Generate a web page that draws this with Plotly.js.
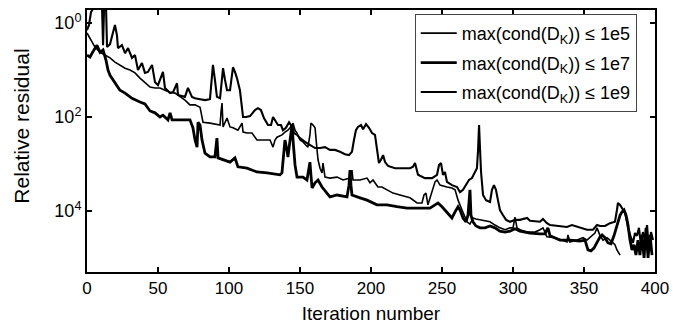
<!DOCTYPE html>
<html>
<head>
<meta charset="utf-8">
<script src="https://cdn.plot.ly/plotly-3.0.1.min.js"></script>
<style>html,body{margin:0;padding:0;background:#fff;}#chart{width:674px;height:324px;}</style>
</head>
<body>
<div id="chart"></div>
<script>
// Series names (legend)
const seriesNames = [
  'max(cond(D<sub>K</sub>)) ≤ 1e5',
  'max(cond(D<sub>K</sub>)) ≤ 1e7',
  'max(cond(D<sub>K</sub>)) ≤ 1e9'
];

// Tick labels as printed on the figure
const xTickVals = [0, 50, 100, 150, 200, 250, 300, 350, 400];
const yTickVals = [1, 0.01, 0.0001];
const yTickText = ['10<sup>0</sup>', '10<sup>2</sup>', '10<sup>4</sup>'];

// cond <= 1e5 (thin line): iteration, log10(relative residual)
const iter1e5 = [0,2.1,4.2,5.6,9.2,12.7,16.2,19.7,23.2,26.8,30.3,33.8,37.3,40.8,44.4,47.9,51.4,54.9,58.5,62.0,65.5,69.0,72.5,76.1,79.6,81.7,86.6,90.1,93.7,94.4,95.1,95.8,97.9,98.6,100.7,102.8,106.3,109.2,109.9,112.7,116.2,119.7,125.4,128.9,131.0,132.4,133.8,137.3,139.4,141.5,143.0,144.4,145.1,146.5,147.9,150.0,152.1,154.2,155.6,157.0,157.7,159.2,160.6,162.0,162.7,164.1,165.5,166.2,166.9,167.6,171.1,176.1,180.3,185.2,186.6,187.3,192.3,197.2,199.3,201.4,204.9,207.7,211.3,215.5,220.4,227.5,232.4,235.9,237.3,238.7,240.1,241.5,243.7,245.1,246.5,248.6,253.5,257.0,259.2,261.3,264.1,266.2,267.6,269.7,271.8,273.9,276.8,280.3,283.8,287.3,290.8,294.4,297.9,300.0,301.4,302.8,304.9,309.9,315.5,319.0,321.1,322.5,323.9,329.6,338.0,338.7,340.1,345.1,349.3,352.1,354.2,356.3,357.7,359.2,361.3,363.4,366.2,369.7,371.8,373.2,374.6,375.4];
const log1e5 = [-0.21,-0.32,-0.43,-0.51,-0.62,-0.68,-0.74,-0.83,-0.89,-0.96,-1.00,-1.06,-1.17,-1.26,-1.36,-1.38,-1.38,-1.43,-1.47,-1.49,-1.57,-1.64,-1.74,-1.74,-1.79,-2.11,-2.13,-2.15,-2.17,-1.89,-1.70,-2.21,-2.06,-2.02,-2.21,-2.23,-2.28,-2.13,-2.32,-2.34,-2.34,-2.49,-2.49,-2.49,-2.64,-2.49,-2.43,-2.38,-2.32,-2.28,-2.23,-2.15,-2.13,-2.28,-2.34,-2.49,-2.53,-2.60,-2.64,-2.38,-2.13,-2.17,-2.23,-2.70,-2.91,-3.09,-3.19,-2.98,-3.13,-3.28,-3.30,-3.28,-3.34,-3.30,-3.13,-3.34,-3.34,-3.30,-3.40,-3.34,-3.49,-3.49,-3.55,-3.62,-3.66,-3.72,-3.83,-3.83,-3.66,-3.62,-3.87,-3.72,-3.51,-3.38,-3.34,-3.45,-3.49,-3.51,-3.55,-3.77,-3.98,-4.13,-4.23,-4.28,-4.15,-4.17,-4.19,-4.21,-4.23,-4.30,-4.36,-4.40,-4.36,-4.36,-4.13,-4.36,-4.40,-4.45,-4.45,-4.40,-4.36,-4.45,-4.55,-4.57,-4.66,-4.51,-4.66,-4.62,-4.57,-4.62,-4.57,-4.51,-4.47,-4.36,-4.53,-4.62,-4.57,-4.66,-4.72,-4.83,-4.89,-4.94];

// cond <= 1e7 (thick line)
const iter1e7 = [0,2.1,4.9,7.0,9.2,11.3,13.4,14.8,16.2,18.3,21.1,23.2,26.8,31.7,37.3,40.8,44.4,47.9,51.4,53.5,55.6,57.0,58.5,59.9,62.0,65.5,69.0,72.5,74.6,76.1,77.5,78.2,79.6,81.0,83.1,86.6,90.1,90.8,91.5,92.3,95.8,100.7,104.2,106.3,112.7,119.7,126.8,132.4,135.9,137.3,138.7,139.4,140.8,141.5,143.0,144.4,145.1,146.5,147.9,152.1,154.9,156.3,157.0,157.7,158.5,160.6,162.7,165.5,169.0,171.1,176.1,183.1,184.5,185.2,185.9,186.6,192.3,197.2,204.2,211.3,218.3,225.4,232.4,238.0,241.5,245.1,247.2,250.0,252.1,254.2,257.0,259.2,261.3,262.7,264.8,266.9,268.3,269.7,270.4,271.8,273.9,276.8,280.3,283.8,287.3,290.8,294.4,297.9,301.4,304.9,312.0,319.0,322.5,324.6,326.1,333.1,340.1,347.2,350.7,352.8,354.9,357.0,359.2,361.3,362.7,364.8,366.9,369.0,371.1,373.2,375.4,376.8,378.2,379.6,381.0,382.4,383.8,385.2,386.6,388.0,389.4,390.8,392.3,393.7,395.1,396.5,397.9];
const log1e7 = [-0.68,-0.72,-0.57,-0.47,-0.62,-0.57,-0.79,-1.00,-1.11,-1.21,-1.36,-1.43,-1.49,-1.60,-1.68,-1.72,-1.87,-1.91,-2.00,-1.96,-2.02,-2.06,-1.91,-2.06,-2.06,-2.06,-2.06,-2.06,-2.23,-2.49,-2.64,-2.11,-2.17,-2.49,-2.77,-2.85,-2.85,-2.60,-2.45,-2.87,-2.91,-2.96,-2.87,-3.06,-3.09,-3.17,-3.19,-3.21,-3.23,-3.19,-2.70,-2.49,-2.70,-2.85,-2.49,-2.17,-2.49,-3.02,-3.28,-3.28,-3.34,-3.13,-2.96,-3.23,-3.51,-3.40,-3.34,-3.49,-3.62,-3.70,-3.66,-3.70,-3.45,-3.13,-3.45,-3.66,-3.72,-3.77,-3.87,-3.87,-3.91,-3.94,-3.94,-3.94,-3.94,-3.87,-3.83,-3.91,-3.98,-4.04,-4.15,-4.02,-3.91,-3.98,-4.15,-4.23,-4.09,-3.55,-4.09,-4.23,-4.32,-4.36,-4.36,-4.32,-4.36,-4.43,-4.45,-4.43,-4.38,-4.43,-4.47,-4.49,-4.49,-4.36,-4.53,-4.62,-4.62,-4.64,-4.62,-4.83,-4.85,-4.79,-4.66,-4.55,-4.51,-4.57,-4.68,-4.70,-4.53,-4.30,-4.09,-4.02,-3.98,-4.09,-4.30,-4.62,-4.83,-4.72,-4.94,-4.62,-4.94,-4.51,-5.00,-4.36,-5.00,-4.51,-4.94];

// cond <= 1e9 (medium line)
const iter1e9 = [0,1.4,2.8,4.2,5.6,7.7,9.2,10.6,11.3,12.0,13.4,14.1,16.2,18.3,19.7,21.1,21.8,24.6,26.8,28.9,31.7,33.8,35.9,38.7,40.8,42.9,45.8,47.9,50.0,53.5,54.9,58.5,60.6,63.4,64.1,69.0,71.1,73.9,76.1,79.6,83.1,86.6,88.0,88.7,90.1,91.5,93.7,95.1,95.8,97.2,98.6,100.7,102.1,102.8,104.2,105.6,107.7,109.9,112.0,114.8,118.3,120.4,122.5,124.6,127.5,129.6,131.0,132.4,134.5,136.6,138.0,140.1,142.3,144.4,145.8,147.9,150.0,153.5,157.0,160.6,164.1,167.6,171.1,174.6,178.2,181.7,184.5,186.6,188.0,189.4,190.8,193.0,194.4,196.5,198.6,200.7,202.8,204.2,205.6,207.0,208.5,209.9,212.0,216.9,223.9,227.5,229.6,231.0,233.1,238.0,243.0,246.5,247.9,249.3,250.7,252.1,253.5,257.0,260.6,262.7,264.8,266.9,269.0,271.1,273.2,274.6,275.4,276.1,276.8,277.5,278.9,281.0,283.8,285.2,286.6,288.0,289.4,290.8,293.0,295.1,297.9,301.4,304.9,309.9,312.0,319.0,321.1,323.9,326.1,333.1,338.0,341.5,347.2,352.1,356.3,359.2,361.3,364.8,368.3,371.8,373.2,373.9,375.4,376.8,378.9,380.3,381.0,383.1,384.5,385.9,387.3,388.7,390.1,391.5,393.0,394.4,395.8,397.2,398.6];
const log1e9 = [-0.15,-0.04,0.23,0.32,0.38,0.32,0.38,0.32,-0.47,0.30,0.35,-0.51,-0.45,-0.20,-0.04,-0.26,-0.53,-0.47,-0.64,-0.53,-0.74,-0.68,-1.00,-0.85,-1.06,-1.04,-0.89,-1.26,-1.32,-1.04,-1.38,-1.49,-1.47,-1.28,-1.53,-1.57,-1.38,-1.57,-1.60,-1.62,-1.64,-1.62,-1.21,-0.89,-1.21,-1.57,-1.60,-1.21,-0.96,-1.21,-1.43,-1.43,-1.11,-0.94,-1.04,-1.17,-1.43,-2.00,-2.00,-1.98,-1.85,-1.81,-1.85,-2.02,-2.17,-2.17,-2.00,-2.06,-2.17,-2.17,-2.28,-2.23,-2.11,-2.21,-2.34,-2.38,-2.45,-2.53,-2.60,-2.66,-2.66,-2.64,-2.70,-2.70,-2.74,-2.79,-2.81,-2.74,-2.49,-2.28,-2.21,-2.17,-2.26,-2.15,-2.23,-2.34,-2.38,-2.70,-2.98,-2.91,-2.81,-2.96,-3.04,-3.09,-3.09,-3.09,-3.06,-2.98,-3.23,-3.30,-3.30,-3.23,-3.02,-2.98,-3.23,-3.17,-3.38,-3.45,-3.49,-3.60,-3.55,-3.45,-3.34,-3.30,-3.17,-3.09,-2.70,-2.17,-2.70,-3.17,-3.66,-3.77,-3.81,-3.55,-3.45,-3.55,-3.77,-3.98,-4.09,-4.19,-4.23,-4.19,-4.19,-4.15,-4.21,-4.23,-4.17,-4.26,-4.30,-4.32,-4.34,-4.30,-4.36,-4.40,-4.40,-4.30,-4.32,-4.32,-4.26,-4.23,-3.98,-3.83,-3.87,-3.94,-4.04,-4.23,-4.36,-4.57,-4.68,-4.47,-4.53,-4.36,-4.72,-4.45,-4.62,-4.30,-4.87,-4.45,-4.62];

const toVal = a => a.map(v => Math.pow(10, v));

const traces = [
  {x: iter1e5, y: toVal(log1e5), name: seriesNames[0], legendgroup: 'a', mode: 'lines', line: {color: '#000', width: 1.6}},
  {x: iter1e7, y: toVal(log1e7), name: seriesNames[1], legendgroup: 'b', mode: 'lines', line: {color: '#000', width: 2.8}},
  {x: iter1e9, y: toVal(log1e9), name: seriesNames[2], legendgroup: 'c', mode: 'lines', line: {color: '#000', width: 2.1}}
];

const font = 'Liberation Sans, Arial, Helvetica, sans-serif';

const layout = {
  width: 674, height: 324,
  margin: {l: 87, r: 19, t: 10, b: 52, pad: 0},
  paper_bgcolor: '#fff', plot_bgcolor: '#fff',
  font: {family: font, color: '#000', size: 17},
  showlegend: true,
  legend: {
    x: 0.577, y: 0.985, xanchor: 'left', yanchor: 'top',
    bgcolor: '#fff', bordercolor: '#444', borderwidth: 1,
    font: {family: font, size: 18, color: '#000'},
    traceorder: 'grouped', tracegroupgap: 3, itemwidth: 36
  },
  xaxis: {
    range: [0, 400], tickvals: xTickVals, ticks: 'inside', ticklen: 5, tickwidth: 1.5, tickcolor: '#000',
    showline: true, linecolor: '#000', linewidth: 2, mirror: 'allticks',
    showgrid: false, zeroline: false,
    tickfont: {family: font, size: 17, color: '#000'},
    title: {text: 'Iteration number', font: {family: font, size: 19, color: '#000'}, standoff: 9}
  },
  yaxis: {
    type: 'log', range: [-5.30, 0.28], tickvals: yTickVals, ticktext: yTickText,
    ticks: 'inside', ticklen: 5, tickwidth: 1.5, tickcolor: '#000',
    showline: true, linecolor: '#000', linewidth: 2, mirror: 'allticks',
    showgrid: false, zeroline: false,
    tickfont: {family: font, size: 18, color: '#000'}
  },
  annotations: [{
    text: 'Relative residual', xref: 'paper', yref: 'paper', x: -0.116, y: 0.555,
    xanchor: 'center', yanchor: 'middle', textangle: -90, showarrow: false,
    font: {family: font, size: 21, color: '#000'}
  }]
};

Plotly.newPlot('chart', traces, layout, {displayModeBar: false, staticPlot: true});
</script>
</body>
</html>
